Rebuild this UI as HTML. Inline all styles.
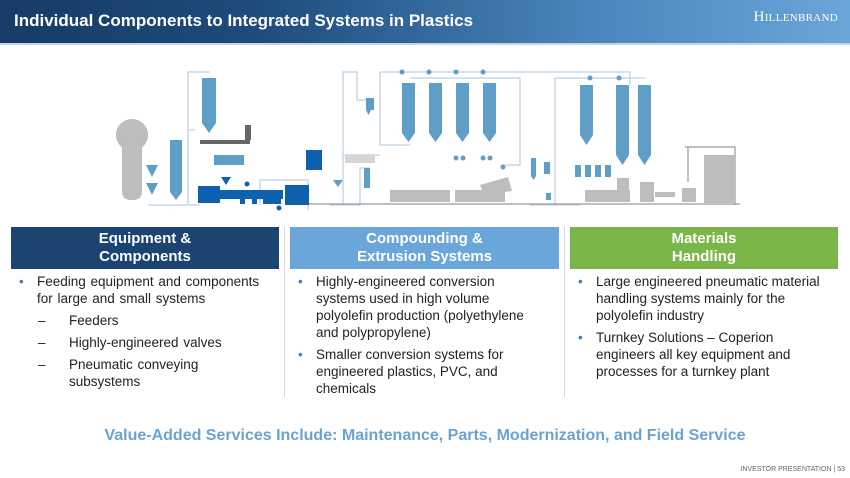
<!DOCTYPE html>
<html><head><meta charset="utf-8"><style>
*{margin:0;padding:0;box-sizing:border-box}
body{width:850px;height:478px;background:#fff;position:relative;overflow:hidden;font-family:"Liberation Sans",Arial,sans-serif}
.hdr{position:absolute;left:0;top:0;width:850px;height:45px;background:linear-gradient(90deg,#163b66 0%,#1e4b7c 30%,#4a86bd 70%,#6aa6d9 100%);border-bottom:2px solid #c7d6e6}
.hdr h1{position:absolute;left:14px;top:11px;font-size:17px;color:#fff;font-weight:bold}
.logo{position:absolute;right:12px;top:9px;color:#fff;font-family:"Liberation Serif",serif;font-size:15px;letter-spacing:.3px}
.logo small{font-size:11px}
.box{position:absolute;top:227px;height:42px;color:#fff;font-weight:bold;font-size:15px;line-height:18px;text-align:center;padding-top:3px}
.col{position:absolute;top:273px;font-size:13.5px;line-height:17px;color:#222;white-space:nowrap}
.col p{position:relative;padding-left:18px;margin-bottom:5px}
.col p.b:before{content:"•";position:absolute;left:0;color:#4a7fb5}
.col p.d{padding-left:50px;margin-bottom:5px}
.col p.d:before{content:"–";position:absolute;left:19px}
.div{position:absolute;top:227px;width:1px;height:170px;background:#d8d8d8}
.va{position:absolute;top:427px;left:0;width:850px;text-align:center;color:#6aa3d1;font-weight:bold;font-size:16px}
.ft{position:absolute;right:5px;top:466px;font-size:7px;color:#666}
</style></head><body>
<div class="hdr"><h1>Individual Components to Integrated Systems in Plastics</h1><div class="logo">H<small>ILLENBRAND</small></div></div>
<svg width="850" height="220" style="position:absolute;left:0;top:0" viewBox="0 0 850 220">
<g fill="none" stroke="#c5d9e8" stroke-width="1.5">
<path d="M148 205H188V130H195M188 130V72H210M200 205H188"/>
<path d="M260 205V180H308V210"/>
<path d="M343 205V72H357V100H372M343 155H380"/>
<path d="M380 72H630V85M380 72V145H410M410 78H520V165H505"/>
<path d="M555 78V205M555 78H645"/>
<path d="M330 205H360V168H370"/>
<path d="M580 205H530"/>
</g>
<g fill="#bdbdbd">
<circle cx="132" cy="135" r="16"/><rect x="122" y="135" width="20" height="65" rx="8"/>
<path d="M390 190h60v12h-60zM455 190h50v12h-50zM480 185l28-8 4 14-28 4z"/>
<rect x="585" y="190" width="45" height="12"/><rect x="617" y="178" width="12" height="24"/><rect x="640" y="182" width="14" height="20"/><rect x="655" y="192" width="20" height="5"/><rect x="682" y="188" width="14" height="14"/>
<rect x="704" y="155" width="30" height="48"/><rect x="345" y="155" width="30" height="8" fill="#d5d5d5"/>
</g>
<g fill="none" stroke="#999" stroke-width="1.2"><path d="M685 147H735V205M688 147V182"/><path d="M290 204H740"/></g>
<g fill="#5f9ec6">
<path d="M146 165h12l-6 12z"/><path d="M146 183h12l-6 12z"/>
<path d="M170 140h12v52l-6 8-6-8z"/>
<path d="M202 78h14v45l-7 10-7-10z"/>
<rect x="214" y="155" width="30" height="10"/>
<path d="M402 83h13v50l-6.5 9-6.5-9z"/><path d="M429 83h13v50l-6.5 9-6.5-9z"/><path d="M456 83h13v50l-6.5 9-6.5-9z"/><path d="M483 83h13v50l-6.5 9-6.5-9z"/>
<path d="M580 85h13v50l-6.5 10-6.5-10z"/>
<path d="M616 85h13v70l-6.5 10-6.5-10z"/><path d="M638 85h13v70l-6.5 10-6.5-10z"/>
<path d="M366 98h5v12l-2.5 5-2.5-5z"/><rect x="368" y="98" width="6" height="12"/>
<path d="M531 158h5v18l-2.5 4-2.5-4z"/><rect x="544" y="162" width="6" height="12"/><rect x="546" y="193" width="5" height="7"/>
<path d="M333 180h10l-5 7z"/><rect x="364" y="168" width="6" height="20"/>
<g><circle cx="402" cy="72" r="2.5"/><circle cx="429" cy="72" r="2.5"/><circle cx="456" cy="72" r="2.5"/><circle cx="483" cy="72" r="2.5"/><circle cx="456" cy="158" r="2.5"/><circle cx="463" cy="158" r="2.5"/><circle cx="483" cy="158" r="2.5"/><circle cx="490" cy="158" r="2.5"/><circle cx="590" cy="78" r="2.5"/><circle cx="619" cy="78" r="2.5"/><circle cx="503" cy="167" r="2.5"/></g>
<path d="M575 165h6v12h-6zM585 165h6v12h-6zM595 165h6v12h-6zM605 165h6v12h-6z"/>
</g>
<g fill="#666"><rect x="200" y="140" width="50" height="4"/><rect x="245" y="125" width="6" height="15"/><rect x="230" y="140" width="20" height="3"/></g>
<g fill="#1060b0">
<rect x="198" y="186" width="22" height="17"/><rect x="198" y="190" width="85" height="9"/>
<path d="M221 177h10l-5 8z"/><rect x="240" y="196" width="5" height="8"/><rect x="252" y="196" width="5" height="8"/>
<rect x="263" y="190" width="18" height="14"/><rect x="285" y="185" width="24" height="20"/>
<rect x="306" y="150" width="16" height="20"/><circle cx="279" cy="208" r="2.5"/><circle cx="247" cy="184" r="2.5"/>
</g>
</svg>
<div class="box" style="left:11px;width:268px;background:#1b4472">Equipment &amp;<br>Components</div>
<div class="box" style="left:290px;width:269px;background:#6aa6d9">Compounding &amp;<br>Extrusion Systems</div>
<div class="box" style="left:570px;width:268px;background:#7ab648">Materials<br>Handling</div>
<div class="div" style="left:284px"></div><div class="div" style="left:564px"></div>
<div class="col" style="left:19px;width:260px;word-spacing:1px">
<p class="b">Feeding equipment and components<br>for large and small systems</p>
<p class="d">Feeders</p><p class="d">Highly-engineered valves</p><p class="d">Pneumatic conveying<br>subsystems</p>
</div>
<div class="col" style="left:298px;width:250px">
<p class="b">Highly-engineered conversion<br>systems used in high volume<br>polyolefin production (polyethylene<br>and polypropylene)</p>
<p class="b">Smaller conversion systems for<br>engineered plastics, PVC, and<br>chemicals</p>
</div>
<div class="col" style="left:578px;width:262px">
<p class="b">Large engineered pneumatic material<br>handling systems mainly for the<br>polyolefin industry</p>
<p class="b">Turnkey Solutions – Coperion<br>engineers all key equipment and<br>processes for a turnkey plant</p>
</div>
<div class="va">Value-Added Services Include: Maintenance, Parts, Modernization, and Field Service</div>
<div class="ft">INVESTOR PRESENTATION | 53</div>
</body></html>
